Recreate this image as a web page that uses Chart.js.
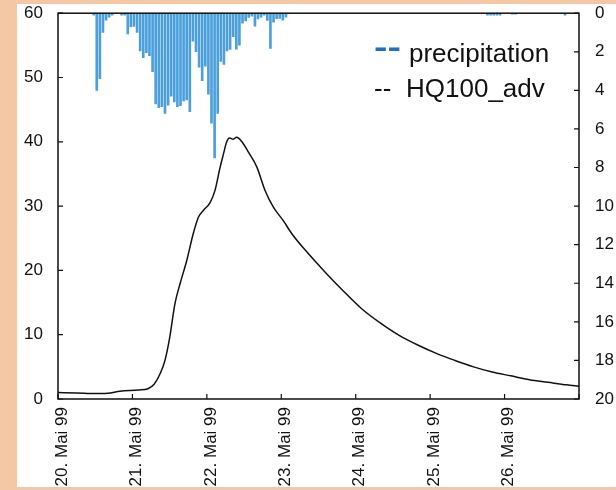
<!DOCTYPE html>
<html>
<head>
<meta charset="utf-8">
<script src="https://cdn.jsdelivr.net/npm/chart.js@4.4.1/dist/chart.umd.min.js"></script>
<style>
  body { margin:0; background:#f4c8a4; font-family:"Liberation Sans", Arial, sans-serif; }
  #wrap { position:absolute; left:17px; top:4px; width:599px; height:483px; overflow:hidden; background:#fff; }
  #c { position:absolute; left:0; top:-17px; }
  .lg { position:absolute; font-size:26px; line-height:26px; color:#111; white-space:nowrap; }
  .dash { position:absolute; font-size:30px; line-height:30px; font-weight:bold; color:#1f6fc4; transform:scaleX(1.35); transform-origin:left center; }
</style>
</head>
<body>
<div id="wrap">
  <canvas id="c" width="599" height="537"></canvas>
  <div class="dash" style="left:357px;top:28px">--</div>
  <div class="lg" style="left:392px;top:36px">precipitation</div>
  <div class="lg" style="left:357px;top:71px">--</div>
  <div class="lg" style="left:389px;top:71px">HQ100_adv</div>
</div>
<script>
// x axis in hours since 20. Mai 99 00:00
var dayLabels = ["20. Mai 99", "21. Mai 99", "22. Mai 99", "23. Mai 99", "24. Mai 99", "25. Mai 99", "26. Mai 99"];

// hourly precipitation (mm), hour index
var rainHours = [11,12,13,14,15,16,17,20,21,22,23,24,25,26,27,28,29,30,31,32,33,34,35,36,37,38,39,40,41,42,
  43,44,45,46,47,48,49,50,51,52,53,54,55,56,57,58,59,60,61,62,63,64,65,66,67,68,69,70,71,72,73,
  138,139,140,141,142,146,147,163];
var rainMm = [0.1,4.0,3.4,1.0,0.36,0.2,0.1,0.1,0.1,1.08,0.7,0.68,1.0,1.96,2.3,2.05,2.2,3.03,4.7,4.9,4.85,5.2,4.77,4.3,4.6,4.85,4.8,4.55,4.5,5.1,
  1.45,2.0,2.8,3.5,2.75,4.2,5.7,7.5,5.2,2.5,2.65,1.96,1.88,1.22,1.86,1.66,0.52,0.4,0.22,0.15,0.67,0.3,0.2,0.1,0.38,1.82,0.46,0.28,0.27,0.36,0.2,
  0.1,0.1,0.1,0.1,0.1,0.05,0.05,0.1];

// discharge HQ100_adv
var qHours = [0,6,12,16,20,26,29,31,33,34.5,36,37.7,39.4,41.5,43.6,45.3,47,49,50.6,52.3,53.3,54.4,55.3,56.5,57.6,59.3,61.4,64.1,66.8,69.5,72.7,75.4,
  80,86,92,98,104,110,116,122,128,134,140,146,152,158,164,168];
var qValues = [1.0,0.95,0.85,0.9,1.2,1.4,1.6,2.3,4.0,6.0,9.5,14.8,18.0,21.5,25.7,28.3,29.4,30.5,32.4,36.1,38.0,40.0,40.6,40.4,40.7,40.0,38.4,36.1,32.4,29.8,27.7,25.7,
  23.0,19.8,16.8,14.0,11.8,9.9,8.4,7.1,6.0,5.0,4.2,3.6,3.0,2.6,2.2,2.0];

var rainData = rainHours.map(function(h, i) { return { x: h + 0.5, y: rainMm[i] }; });
var qData = qHours.map(function(h, i) { return { x: h, y: qValues[i] }; });

var tickFont = { family: "'Liberation Sans', Arial, sans-serif", size: 17 };

var boxAndTicks = {
  id: 'boxAndTicks',
  afterDraw: function(chart) {
    var ctx = chart.ctx, a = chart.chartArea, s = chart.scales;
    ctx.save();
    ctx.strokeStyle = '#111';
    ctx.lineWidth = 1.5;
    ctx.strokeRect(a.left, a.top, a.right - a.left, a.bottom - a.top);
    ctx.lineWidth = 1.2;
    ctx.beginPath();
    s.y.ticks.forEach(function(t) {
      var p = s.y.getPixelForValue(t.value);
      ctx.moveTo(a.left, p); ctx.lineTo(a.left + 5, p);
    });
    s.y2.ticks.forEach(function(t) {
      var p = s.y2.getPixelForValue(t.value);
      ctx.moveTo(a.right - 5, p); ctx.lineTo(a.right, p);
    });
    s.x.ticks.forEach(function(t) {
      var p = s.x.getPixelForValue(t.value);
      ctx.moveTo(p, a.bottom); ctx.lineTo(p, a.bottom - 5);
    });
    ctx.stroke();
    ctx.restore();
  }
};

new Chart(document.getElementById('c').getContext('2d'), {
  type: 'line',
  data: {
    datasets: [{
      type: 'bar',
      label: 'precipitation',
      data: rainData,
      yAxisID: 'y2',
      backgroundColor: '#4a9fdc',
      borderWidth: 0,
      barThickness: 2,
      order: 1
    }, {
      type: 'line',
      label: 'HQ100_adv',
      data: qData,
      yAxisID: 'y',
      borderColor: '#111',
      borderWidth: 1.5,
      pointRadius: 0,
      fill: false,
      cubicInterpolationMode: 'monotone',
      order: 0
    }]
  },
  options: {
    responsive: false,
    animation: false,
    layout: { padding: { top: 8, left: 0, right: 0, bottom: 0 } },
    plugins: { legend: { display: false }, tooltip: { enabled: false } },
    scales: {
      x: {
        type: 'linear', min: 0, max: 168, offset: false,
        grid: { display: false, drawTicks: false, offset: false },
        border: { display: false },
        ticks: {
          stepSize: 24, autoSkip: false, maxRotation: 90, minRotation: 90, padding: 8, labelOffset: 4,
          color: '#111', font: tickFont,
          callback: function(v) { return dayLabels[v / 24] || ''; }
        },
        afterFit: function(scale) { scale.height = 125; }
      },
      y: {
        position: 'left', min: 0, max: 60,
        grid: { display: false, drawTicks: false },
        border: { display: false },
        ticks: { stepSize: 10, padding: 15, color: '#111', font: tickFont },
        afterFit: function(scale) { scale.width = 41; }
      },
      y2: {
        position: 'right', min: 0, max: 20, reverse: true,
        grid: { display: false, drawTicks: false },
        border: { display: false },
        ticks: { stepSize: 2, padding: 16, color: '#111', font: tickFont },
        afterFit: function(scale) { scale.width = 37; }
      }
    }
  },
  plugins: [boxAndTicks]
});
</script>
</body>
</html>
